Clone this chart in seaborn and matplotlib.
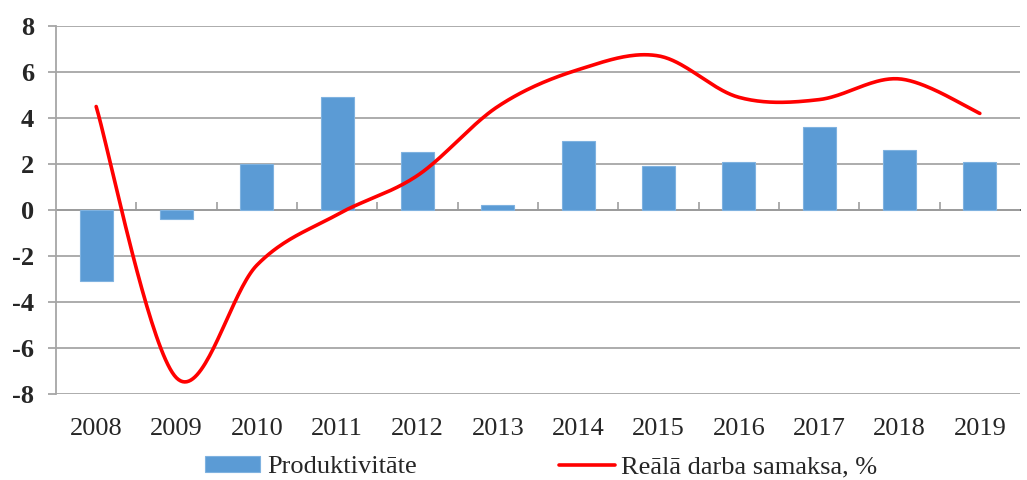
import numpy as np
import pandas as pd
import matplotlib
matplotlib.use("Agg")
import matplotlib.pyplot as plt
import seaborn as sns

years = ["2008", "2009", "2010", "2011", "2012", "2013", "2014", "2015", "2016", "2017", "2018", "2019"]
productivity = [-3.1, -0.4, 2.0, 4.9, 2.5, 0.2, 3.0, 1.9, 2.1, 3.6, 2.6, 2.1]
real_wage = [4.5, -7.3, -2.4, -0.2, 1.5, 4.5, 6.1, 6.7, 4.9, 4.8, 5.7, 4.2]
yticks = [-8, -6, -4, -2, 0, 2, 4, 6, 8]

sns.set_theme(style="white")
plt.rcParams['font.family'] = ['Liberation Serif', 'DejaVu Serif']

GRID = "#A6A6A6"
BAR = "#5B9BD5"
FS = 19

fig = plt.figure(figsize=(10.27, 4.8), dpi=100)
ax = fig.add_axes([56/1027, 1-394/480, (1020-56)/1027, (394-26)/480])

df = pd.DataFrame({"year": years, "prod": productivity})
sns.barplot(data=df, x="year", y="prod", color=BAR, saturation=1, width=0.41,
            ax=ax, label="Produktivitāte", edgecolor="#7FB2E0", linewidth=0.8, zorder=2)

# Excel-like smoothed line (cubic Bezier through the data points)
P = np.column_stack([np.arange(len(real_wage), dtype=float), np.array(real_wage, float)])
n = len(P)
curve = []
t = np.linspace(0, 1, 40)[:, None]
for i in range(n - 1):
    p0 = P[i - 1] if i > 0 else P[i]
    p1 = P[i]
    p2 = P[i + 1]
    p3 = P[i + 2] if i + 2 < n else P[i + 1]
    c1 = p1 + (p2 - p0) / 6
    c2 = p2 - (p3 - p1) / 6
    seg = ((1 - t) ** 3) * p1 + 3 * ((1 - t) ** 2) * t * c1 + 3 * (1 - t) * t ** 2 * c2 + t ** 3 * p2
    curve.append(seg if i == 0 else seg[1:])
curve = np.vstack(curve)
sns.lineplot(x=curve[:, 0], y=curve[:, 1], sort=False, estimator=None, color="#FF0000",
             lw=2.6, ax=ax, label="Reālā darba samaksa, %", zorder=3)

ax.set_xlim(-0.5, len(years) - 0.5)
ax.set_ylim(-8, 8)
ax.set_yticks(yticks)
ax.set_yticklabels([str(v) for v in yticks], fontsize=FS, fontweight="bold")
ax.set_xlabel("")
ax.set_ylabel("")
ax.yaxis.grid(True, color=GRID, lw=1.3, zorder=0)
ax.xaxis.grid(False)
ax.set_axisbelow(True)
for s in ["top", "right", "bottom"]:
    ax.spines[s].set_visible(False)
ax.spines["left"].set_color(GRID)
ax.spines["left"].set_linewidth(1.3)
ax.tick_params(axis="y", which="both", left=True, length=6, width=1.3, color=GRID, pad=10)
ax.tick_params(axis="x", bottom=False, labelsize=FS, pad=11)
for lab in ax.get_xticklabels():
    lab.set_fontsize(FS)

# tick marks on the zero line at category boundaries
sec = ax.secondary_xaxis(0.5)
sec.set_xticks(np.arange(0.5, len(years) - 1, 1.0))
sec.set_xticklabels([])
sec.spines["bottom"].set_visible(False)
sec.tick_params(axis="x", direction="out", length=6, width=1.3, color=GRID)

leg = ax.get_legend()
if leg is not None:
    leg.remove()
h, l = ax.get_legend_handles_labels()
order = [l.index("Produktivitāte"), l.index("Reālā darba samaksa, %")]
fig.legend([h[i] for i in order], [l[i] for i in order], loc="center",
           bbox_to_anchor=(0.527, 0.027), ncol=2, frameon=False,
           fontsize=FS, handlelength=2.1, handletextpad=0.25, columnspacing=5.4,
           handleheight=0.6)

fig.savefig("out.png", dpi=100)
